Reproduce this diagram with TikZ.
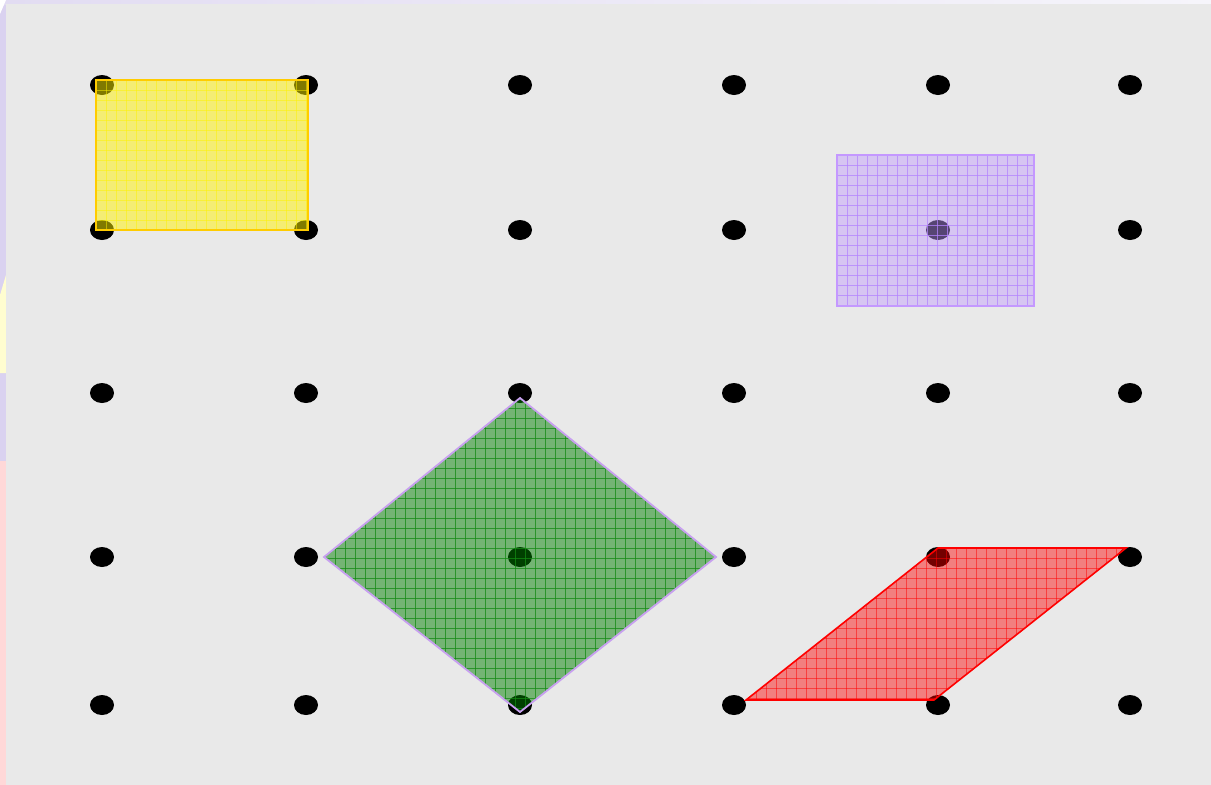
\documentclass[tikz,border=0pt]{standalone}
\usetikzlibrary{shapes.geometric}
\definecolor{bg}{HTML}{E9E9E9}
\definecolor{lav}{HTML}{DAD2F0}
\definecolor{lavtop}{HTML}{E2DCF2}
\definecolor{lavlight}{HTML}{F6F5FB}
\definecolor{stripyellow}{HTML}{FFFDD0}
\definecolor{strippink}{HTML}{FFD8D8}
\definecolor{ygold}{HTML}{FFCC00}
\definecolor{pfill}{HTML}{C09AFF}
\definecolor{pline}{HTML}{B484FF}
\definecolor{pborder}{HTML}{C498FF}
\definecolor{gborder}{HTML}{C8A0F0}
\definecolor{gline}{HTML}{138A13}
\begin{document}
\begin{tikzpicture}[x=1pt,y=-1pt,
  dot/.style={ellipse, fill=black, inner sep=0pt, minimum width=24pt, minimum height=20pt},
  gridline/.style={line width=0.55pt, draw opacity=0.75},
  softgrid/.style={line width=0.5pt, draw opacity=0.5}]
\useasboundingbox (0,0) rectangle (1211,785);
% frame and strips
\fill[lav] (0,0) rectangle (6,785);
\shade[left color=lavtop, right color=lavlight] (0,0) rectangle (1211,4);
\fill[white] (0,0) -- (6,0) -- (0,14) -- cycle;
\fill[stripyellow] (0,295) -- (6,275) -- (6,373) -- (0,373) -- cycle;
\fill[strippink] (0,461) rectangle (6,785);
\fill[bg] (6,4) rectangle (1211,785);
% dots
\foreach \c/\x in {1/102,2/306,3/520,4/734,5/938,6/1130}{
  \foreach \r/\y in {1/85,2/230,3/393,4/557,5/705}{
    \node[dot] (d-\r-\c) at (\x,\y) {};
  }
}
% yellow rectangle
\coordinate (ya) at (96,80);
\coordinate (yb) at (308,230);
\begin{scope}
  \fill[yellow, fill opacity=0.5] (ya) rectangle (yb);
  \clip (ya) rectangle (yb);
  \foreach \x in {96,106,...,316} \draw[softgrid, yellow] (\x,80) -- (\x,230);
  \foreach \y in {80,90,...,236} \draw[softgrid, yellow] (96,\y) -- (308,\y);
\end{scope}
\draw[ygold, line width=2pt] (ya) rectangle (yb);
% purple rectangle
\coordinate (pa) at (837,155);
\coordinate (pb) at (1034,306);
\begin{scope}
  \fill[pfill, fill opacity=0.45] (pa) rectangle (pb);
  \clip (pa) rectangle (pb);
  \foreach \x in {837,847,...,1040} \draw[gridline, pline] (\x,155) -- (\x,306);
  \foreach \y in {155,165,...,312} \draw[gridline, pline] (837,\y) -- (1034,\y);
\end{scope}
\draw[pborder, line width=1.8pt] (pa) rectangle (pb);
% green diamond
\coordinate (gt) at (520,398);
\coordinate (gr) at (716,557);
\coordinate (gb) at (520,712);
\coordinate (gl) at (324,557);
\begin{scope}
  \fill[green!50!black, fill opacity=0.5] (gt) -- (gr) -- (gb) -- (gl) -- cycle;
  \clip (gt) -- (gr) -- (gb) -- (gl) -- cycle;
  \foreach \x in {325,335,...,720} \draw[gridline, gline] (\x,398) -- (\x,712);
  \foreach \y in {398,408,...,716} \draw[gridline, gline] (324,\y) -- (716,\y);
\end{scope}
\draw[gborder, line width=1.8pt, line join=miter] (gt) -- (gr) -- (gb) -- (gl) -- cycle;
% red parallelogram
\coordinate (ra) at (746,700);
\coordinate (rb) at (938,548);
\coordinate (rc) at (1126,548);
\coordinate (rd) at (934,700);
\begin{scope}
  \fill[red, fill opacity=0.45] (ra) -- (rb) -- (rc) -- (rd) -- cycle;
  \clip (ra) -- (rb) -- (rc) -- (rd) -- cycle;
  \foreach \x in {746,756,...,1130} \draw[softgrid, red] (\x,548) -- (\x,700);
  \foreach \y in {548,558,...,704} \draw[softgrid, red] (746,\y) -- (1126,\y);
\end{scope}
\draw[red, line width=1.6pt] (ra) -- (rb) -- (rc) -- (rd) -- cycle;
\end{tikzpicture}
\end{document}
